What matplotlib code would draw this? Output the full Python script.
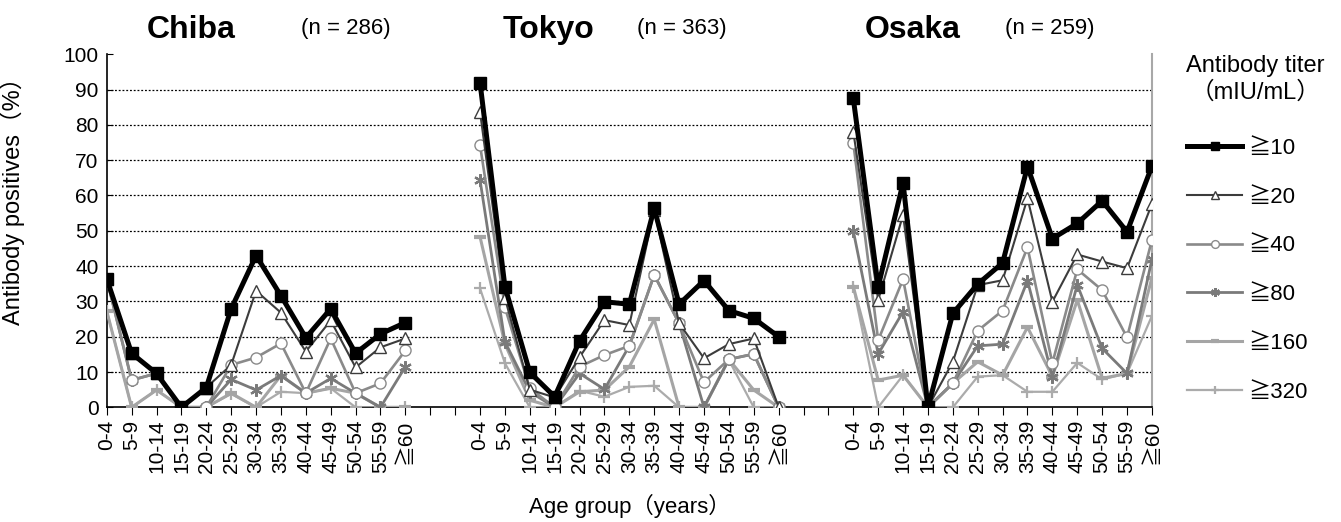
import matplotlib
matplotlib.use("Agg")
import matplotlib.pyplot as plt
from matplotlib import transforms

plt.rcParams['font.family'] = ['Liberation Sans', 'Noto Sans CJK JP', 'DejaVu Sans']

# age groups, same for every city
ages = ["0-4", "5-9", "10-14", "15-19", "20-24", "25-29", "30-34",
        "35-39", "40-44", "45-49", "50-54", "55-59", "≧60"]

cities = ["Chiba", "Tokyo", "Osaka"]
sizes = ["(n = 286)", "(n = 363)", "(n = 259)"]
titers = ["≧10", "≧20", "≧40", "≧80", "≧160", "≧320"]

# % positive, one row per titer cut-off
chiba = [
    [36.4, 15.3, 9.6, 0, 5.6, 27.9, 43.0, 31.6, 19.7, 27.9, 15.3, 20.8, 24.0],
    [36.4, 15.3, 9.6, 0, 5.6, 12.0, 33.0, 26.8, 15.8, 24.6, 11.3, 17.0, 19.5],
    [36.4, 7.7, 9.6, 0, 0, 12.0, 14.1, 18.1, 4.0, 19.5, 4.0, 6.8, 16.1],
    [36.4, 7.7, 9.6, 0, 0, 7.9, 4.9, 9.0, 4.0, 8.2, 4.0, 0, 11.5],
    [27.3, 0, 4.9, 0, 0, 4.0, 0, 9.0, 4.0, 5.4, 4.0, 0, 0],
    [27.3, 0, 4.9, 0, 0, 3.8, 0, 4.4, 4.0, 5.4, 0, 0, 0],
]
tokyo = [
    [92.0, 34.2, 9.9, 3.0, 18.8, 29.9, 29.2, 56.4, 29.2, 35.9, 27.4, 25.2, 20.0],
    [83.7, 31.0, 5.0, 2.8, 14.2, 24.7, 23.3, 55.9, 23.8, 13.9, 17.9, 19.5, 0],
    [74.3, 28.3, 5.4, 0, 11.5, 14.8, 17.4, 37.5, 23.8, 7.1, 13.6, 15.1, 0],
    [64.4, 18.6, 4.4, 0, 9.6, 5.1, 17.4, 37.5, 23.8, 0, 13.6, 15.1, 0],
    [48.3, 18.0, 2.0, 0, 4.4, 4.9, 11.5, 24.9, 0, 0, 13.6, 4.9, 0],
    [33.7, 12.5, 0, 0, 4.7, 3.0, 5.8, 6.1, 0, 0, 13.4, 0, 0],
]
osaka = [
    [87.5, 34.2, 63.6, 0, 26.6, 34.9, 40.9, 68.2, 47.8, 52.1, 58.5, 49.7, 68.3],
    [78.1, 30.4, 54.5, 0, 12.9, 34.6, 36.0, 59.2, 29.9, 43.3, 41.3, 39.4, 57.6],
    [74.9, 19.0, 36.3, 0, 6.8, 21.7, 27.4, 45.3, 12.5, 39.1, 33.2, 19.8, 47.4],
    [50.0, 15.1, 27.1, 0, 6.8, 17.4, 17.9, 35.9, 8.7, 34.7, 16.7, 9.6, 41.9],
    [34.2, 7.7, 9.1, 0, 6.8, 12.9, 9.1, 22.7, 8.7, 30.4, 8.2, 9.6, 36.7],
    [34.2, 0, 9.1, 0, 0, 8.7, 9.1, 4.4, 4.4, 12.6, 7.9, 9.6, 25.9],
]

# line styles for each titer cut-off
styles = [
    dict(color="black", lw=3.6, marker="s", ms=9, mfc="black", mec="black", zorder=9),
    dict(color="#3c3c3c", lw=1.5, marker="^", ms=8, mfc="white", mec="#3c3c3c", zorder=8),
    dict(color="#8a8a8a", lw=1.9, marker="o", ms=8, mfc="white", mec="#8a8a8a", zorder=7),
    dict(color="#7a7a7a", lw=2.0, marker=(6, 2, 0), ms=9, mec="#7a7a7a", mew=1.6, zorder=6),
    dict(color="#a5a5a5", lw=2.2, marker="_", ms=9, mec="#a5a5a5", mew=3, zorder=5),
    dict(color="#ababab", lw=1.6, marker="+", ms=9, mec="#ababab", mew=1.6, zorder=4),
]

gap = 2
fig = plt.figure(figsize=(13.41, 5.22), dpi=100)
ax = fig.add_axes([0.0796, 0.2197, 0.7794, 0.6763])

tick_pos = []
tick_lab = []
for c, data in enumerate([chiba, tokyo, osaka]):
    start = c * (len(ages) + gap)
    xs = list(range(start, start + len(ages)))
    for i, row in enumerate(data):
        ax.plot(xs, row, label=titers[i] if c == 0 else None, **styles[i])
    tick_pos += xs
    tick_lab += ages
    if c < 2:
        for g in range(gap):
            tick_pos.append(start + len(ages) + g)
            tick_lab.append("")

ax.set_xlim(0, tick_pos[-1])
ax.set_ylim(0, 100)
ax.set_xticks(tick_pos)
ax.set_xticklabels(tick_lab, rotation=90, fontsize=15)
ax.set_yticks(range(0, 101, 10))
ax.tick_params(axis="y", direction="in", length=4, labelsize=15, pad=6)
ax.tick_params(axis="x", direction="out", length=6, pad=3)

for v in range(10, 100, 10):
    ax.axhline(v, color="black", lw=0.9, ls=(0, (1.5, 1.5)), zorder=1)

ax.spines["top"].set_visible(False)
ax.spines["right"].set_color("#a8a8a8")
ax.spines["right"].set_linewidth(1.5)
ax.spines["left"].set_linewidth(1.2)
ax.spines["bottom"].set_linewidth(1.2)

ax.set_ylabel("Antibody positives（%）", fontsize=17)
ax.yaxis.set_label_coords(-0.078, 0.6)
ax.set_xlabel("Age group（years）", fontsize=16, labelpad=15)

# city titles above each block
trans = transforms.blended_transform_factory(ax.transData, ax.transAxes)
title_x = [3.4, 17.75, 32.4]
n_x = [9.6, 23.1, 37.9]
for c in range(3):
    ax.text(title_x[c], 1.068, cities[c], transform=trans, ha="center",
            va="center", fontsize=23, fontweight="bold")
    ax.text(n_x[c], 1.072, sizes[c], transform=trans, ha="center",
            va="center", fontsize=16)

leg = ax.legend(loc="upper left", bbox_to_anchor=(1.0148, 0.82), frameon=False,
                fontsize=16, handlelength=2.45, handletextpad=0.3,
                labelspacing=1.25, markerscale=0.7)
fig.text(0.936, 0.848, "Antibody titer\n（mIU/mL）", ha="center", va="center",
         fontsize=17, linespacing=1.25)

fig.savefig("out.png", dpi=100)
